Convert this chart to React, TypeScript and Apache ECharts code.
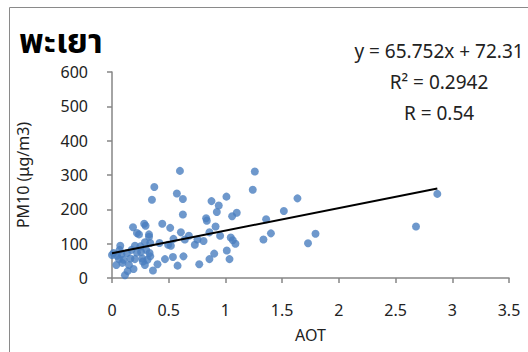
import React, { useEffect, useRef } from "react";
import * as echarts from "echarts";

const title = "พะเยา";
const xName = "AOT";
const yName = "PM10 (μg/m3)";
const eqLines = ["y = 65.752x + 72.31", "R² = 0.2942", "R = 0.54"];
const slope = 65.752;
const intercept = 72.31;

const aot = [
  0.0, 0.014, 0.044, 0.083, 0.132, 0.172, 0.22, 0.256, 0.302, 0.331,
  0.061, 0.102, 0.162, 0.202, 0.267, 0.313, 0.337, 0.038, 0.091, 0.15,
  0.272, 0.29, 0.361, 0.401, 0.467, 0.19, 0.138, 0.114, 0.067, 0.073,
  0.202, 0.25, 0.29, 0.337, 0.419, 0.495, 0.185, 0.284, 0.443, 0.22,
  0.326, 0.326, 0.238, 0.296, 0.352, 0.373, 0.572, 0.599, 0.625, 0.625,
  0.513, 0.607, 0.542, 0.678, 0.642, 0.73, 0.753, 0.807, 0.859, 0.913,
  0.83, 0.836, 0.877, 0.941, 0.924, 1.009, 1.059, 1.1, 0.953, 1.047,
  1.065, 1.088, 1.012, 1.036, 0.901, 0.859, 0.769, 0.63, 0.537, 0.578,
  0.519, 1.259, 1.241, 1.359, 1.335, 1.401, 1.515, 1.635, 1.728, 1.794,
  2.68, 2.868,
];
const pm10 = [
  67, 73, 65, 69, 73, 82, 74, 76, 82, 73,
  55, 53, 57, 55, 57, 53, 63, 38, 44, 38,
  48, 38, 22, 40, 55, 26, 20, 8, 82, 94,
  94, 92, 104, 102, 102, 97, 148, 158, 158, 131,
  127, 120, 127, 152, 228, 265, 246, 312, 230, 185,
  146, 133, 114, 123, 112, 97, 112, 108, 133, 150,
  174, 167, 224, 211, 192, 237, 180, 190, 123, 118,
  110, 100, 80, 55, 71, 55, 40, 63, 61, 36,
  94, 310, 257, 171, 112, 130, 195, 232, 101, 129,
  150, 245,
];
const xTicks = { min: 0, max: 3.5, interval: 0.5 };
const yTicks = { min: 0, max: 600, interval: 100 };

const FONT = "'Noto Sans', 'Noto Sans Thai', Tahoma, sans-serif";
const AXIS_COLOR = "#868686";
const TEXT_COLOR = "#222";

export default function App() {
  const ref = useRef<HTMLDivElement>(null);
  useEffect(() => {
    if (!ref.current) return;
    const chart = echarts.init(ref.current, null, { renderer: "svg" });
    const pts = aot.map((x, i) => [x, pm10[i]]);
    const xMin = Math.min(...aot);
    const xMax = Math.max(...aot);
    const trend = [
      [xMin, slope * xMin + intercept],
      [xMax, slope * xMax + intercept],
    ];
    chart.setOption({
      animation: false,
      backgroundColor: "#fff",
      textStyle: { fontFamily: FONT },
      grid: {
        left: 112,
        top: 72,
        width: 397,
        height: 206,
        containLabel: false,
        outerBoundsMode: "none",
      },
      xAxis: {
        type: "value",
        min: xTicks.min,
        max: xTicks.max,
        interval: xTicks.interval,
        name: xName,
        nameLocation: "middle",
        nameGap: 49,
        nameTextStyle: { fontSize: 16, color: TEXT_COLOR, fontFamily: FONT },
        axisLine: { show: true, lineStyle: { color: AXIS_COLOR, width: 1.5 } },
        axisTick: { show: true, length: 5, lineStyle: { color: AXIS_COLOR, width: 1.5 } },
        axisLabel: { margin: 24, fontSize: 16, color: TEXT_COLOR, fontFamily: FONT },
        splitLine: { show: false },
      },
      yAxis: {
        type: "value",
        min: yTicks.min,
        max: yTicks.max,
        interval: yTicks.interval,
        name: yName,
        nameLocation: "middle",
        nameGap: 81,
        nameRotate: 90,
        nameTextStyle: { fontSize: 16, color: TEXT_COLOR, fontFamily: FONT },
        axisLine: { show: true, lineStyle: { color: AXIS_COLOR, width: 1.5 } },
        axisTick: { show: true, length: 5, lineStyle: { color: AXIS_COLOR, width: 1.5 } },
        axisLabel: { margin: 24, fontSize: 16, color: TEXT_COLOR, fontFamily: FONT },
        splitLine: { show: false },
      },
      graphic: [
        {
          type: "rect",
          shape: { x: 9.5, y: 7.5, width: 600, height: 400 },
          style: { fill: "none", stroke: "#8a8a8a", lineWidth: 1 },
          silent: true,
        },
        {
          type: "text",
          x: 19,
          y: 40,
          style: {
            text: title,
            fontSize: 34,
            fontWeight: "bold",
            fontFamily: FONT,
            fill: "#000",
            textVerticalAlign: "middle",
          },
        },
        ...eqLines.map((t, i) => ({
          type: "text",
          x: 439,
          y: 51 + i * 31,
          style: {
            text: t,
            fontSize: 19,
            fontFamily: FONT,
            fill: TEXT_COLOR,
            textAlign: "center",
            textVerticalAlign: "middle",
          },
        })),
      ],
      series: [
        {
          type: "scatter",
          data: pts,
          symbolSize: 8,
          itemStyle: { color: "#4A7EBF" },
          z: 2,
        },
        {
          type: "line",
          data: trend,
          symbol: "none",
          lineStyle: { color: "#000", width: 2 },
          z: 3,
        },
      ],
    });
    return () => chart.dispose();
  }, []);
  return (
    <div
      ref={ref}
      style={{ position: "fixed", left: 0, top: 0, width: 528, height: 352 }}
    />
  );
}
